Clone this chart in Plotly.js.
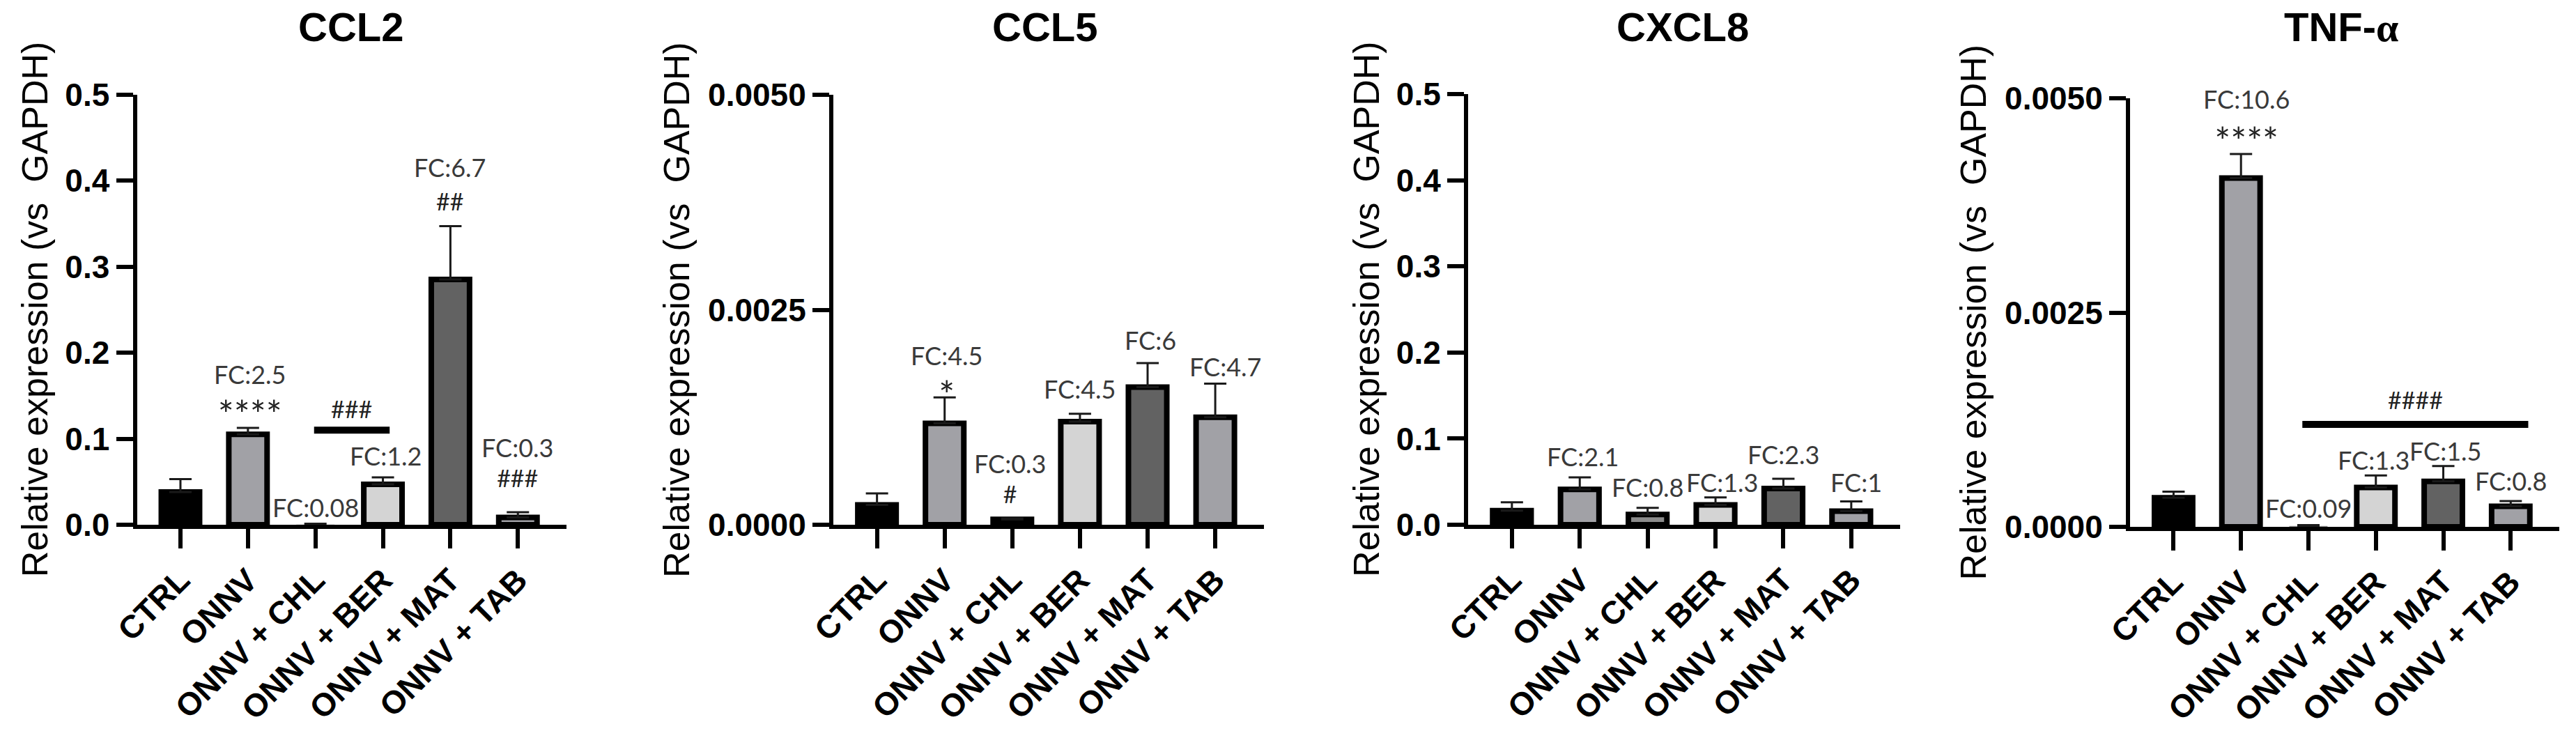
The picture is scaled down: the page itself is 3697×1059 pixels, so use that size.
<!DOCTYPE html>
<html>
<head>
<meta charset="utf-8">
<script src="https://cdn.plot.ly/plotly-3.0.1.min.js"></script>
<style>html,body{margin:0;padding:0;background:#fff;overflow:hidden}</style>
</head>
<body>
<div id="chart" style="width:3697px;height:1059px"></div>
<script>
// ---------------- DATA ----------------
const categories = ["CTRL", "ONNV", "ONNV + CHL", "ONNV + BER", "ONNV + MAT", "ONNV + TAB"];

const ccl2Mean = [0.038, 0.105, 0.0003, 0.047, 0.285, 0.0085];
const ccl2Sem  = [0.015, 0.0075, 0.0009, 0.008, 0.062, 0.006];
const ccl2FC   = ["", "FC:2.5", "FC:0.08", "FC:1.2", "FC:6.7", "FC:0.3"];
const ccl2Sig  = ["", "****", "", "", "##", "###"];

const ccl5Mean = [0.00023, 0.00118, 0.000062, 0.0012, 0.0016, 0.00125];
const ccl5Sem  = [0.000135, 0.0003, 0.00001, 0.00009, 0.00028, 0.00039];
const ccl5FC   = ["", "FC:4.5", "FC:0.3", "FC:4.5", "FC:6", "FC:4.7"];
const ccl5Sig  = ["", "*", "#", "", "", ""];

const cxcl8Mean = [0.0163, 0.041, 0.012, 0.023, 0.042, 0.0157];
const cxcl8Sem  = [0.0098, 0.014, 0.0076, 0.0087, 0.0113, 0.0115];
const cxcl8FC   = ["", "FC:2.1", "FC:0.8", "FC:1.3", "FC:2.3", "FC:1"];
const cxcl8Sig  = ["", "", "", "", "", ""];

const tnfMean = [0.00034, 0.00407, 0.00001, 0.00046, 0.00053, 0.00024];
const tnfSem  = [0.00007, 0.00028, 0.00001, 0.00014, 0.00018, 0.00006];
const tnfFC   = ["", "FC:10.6", "FC:0.09", "FC:1.3", "FC:1.5", "FC:0.8"];
const tnfSig  = ["", "****", "", "", "", ""];

const tickValsA = [0, 0.1, 0.2, 0.3, 0.4, 0.5];
const tickTextA = ["0.0", "0.1", "0.2", "0.3", "0.4", "0.5"];
const tickValsB = [0, 0.0025, 0.005];
const tickTextB = ["0.0000", "0.0025", "0.0050"];

const yTitleText = "Relative expression (vs\u00a0 GAPDH)";

// group comparison bars (significance vs ONNV)
const ccl2Group = {from: 1.98, to: 3.1, level: 0.11, text: "###"};
const tnfGroup  = {from: 1.91, to: 5.26, level: 0.001195, text: "####"};

// ---------------- STYLE / LAYOUT ----------------
const W = 3697, H = 1059;
const fills = ["#000000", "#a1a1a6", "#8c8c8c", "#d4d4d4", "#626262", "#a1a1a6"];

const FC_SIZE = 36, STAR_SIZE = 54, HASH_SIZE = 34;

const panels = [
  {title: "<b>CCL2</b>", mean: ccl2Mean, sem: ccl2Sem, fc: ccl2FC, sig: ccl2Sig,
   tv: tickValsA, tt: tickTextA, ymax: 0.5, group: ccl2Group, groupShift: 31,
   frame: {x0: 196.5, x1: 813, top: 135.5, bottom: 753, titleX: 503, yTitleX: 50},
   lw: [8, 8, 0, 8, 8, 8],
   fcShift: [0, 0, 24, 31, 0, 0], fcDx: [0, 3, 0, 4, -1, -1],
   comboShift: [0, 101, 0, 0, 108, 117], comboGap: [0, 48.5, 0, 0, 36.9, 33]},
  {title: "<b>CCL5</b>", mean: ccl5Mean, sem: ccl5Sem, fc: ccl5FC, sig: ccl5Sig,
   tv: tickValsB, tt: tickTextB, ymax: 0.005, group: null,
   frame: {x0: 1196, x1: 1814, top: 136, bottom: 753, titleX: 1499, yTitleX: 971.5},
   lw: [8, 8, 8, 8, 8, 8],
   fcShift: [0, 0, 0, 36, 33, 25], fcDx: [0, 3, -3, 0, 4, 14],
   comboShift: [0, 84, 103.5, 0, 0, 0], comboGap: [0, 47.7, 33.1, 0, 0, 0]},
  {title: "<b>CXCL8</b>", mean: cxcl8Mean, sem: cxcl8Sem, fc: cxcl8FC, sig: cxcl8Sig,
   tv: tickValsA, tt: tickTextA, ymax: 0.5, group: null,
   frame: {x0: 2107, x1: 2727, top: 135, bottom: 753, titleX: 2415, yTitleX: 1961},
   lw: [8, 8, 8, 8, 8, 8],
   fcShift: [0, 30, 30, 22, 35, 27], fcDx: [0, 4, 0, 9, 0, 7],
   comboShift: [0, 0, 0, 0, 0, 0], comboGap: [0, 0, 0, 0, 0, 0]},
  {title: "<b>TNF-<span style='font-family:Liberation Serif'>α</span></b>", mean: tnfMean, sem: tnfSem, fc: tnfFC, sig: tnfSig,
   tv: tickValsB, tt: tickTextB, ymax: 0.005, group: tnfGroup, groupShift: 36,
   frame: {x0: 3057, x1: 3673, top: 141, bottom: 756, titleX: 3360, yTitleX: 2831},
   lw: [8, 8, 0, 8, 8, 8],
   fcShift: [0, 0, 25, 22, 22, 29], fcDx: [0, 8, 0, -3, 3, 0],
   comboShift: [0, 102.5, 0, 0, 0, 0], comboGap: [0, 50.8, 0, 0, 0, 0]}
];

const axisFont = {family: "Liberation Sans, Arial, sans-serif", size: 46, color: "#000", weight: "bold"};
const fcFont = {family: "Lato, Open Sans, sans-serif", size: FC_SIZE, color: "#3a3a3a"};
const hashFont = {family: "Lato, Open Sans, sans-serif", size: HASH_SIZE, color: "#222"};

const traces = [];
const layout = {
  width: W, height: H, margin: {l: 0, r: 0, t: 0, b: 0},
  paper_bgcolor: "#fff", plot_bgcolor: "rgba(0,0,0,0)",
  showlegend: false, annotations: [], shapes: [], bargap: 0
};

function sigSpan(s) {
  const size = s.indexOf("*") >= 0 ? STAR_SIZE : HASH_SIZE;
  return "<span style='font-size:" + size + "px;color:#222'>" + s + "</span>";
}

panels.forEach((p, i) => {
  const sfx = i === 0 ? "" : String(i + 1);
  const xa = "x" + sfx, ya = "y" + sfx;
  const f = p.frame;
  traces.push({
    type: "bar", x: categories, y: p.mean, xaxis: xa, yaxis: ya,
    width: 0.567,
    marker: {color: fills, line: {color: "#000", width: p.lw}},
    error_y: {type: "data", symmetric: false, array: p.sem, arrayminus: p.sem.map(() => 0),
              color: "#1a1a1a", thickness: 3, width: 16},
    hoverinfo: "skip"
  });
  layout["xaxis" + sfx] = {
    domain: [f.x0 / W, f.x1 / W], anchor: ya, type: "category",
    range: [-0.645, 5.72], autorange: false,
    showline: true, linewidth: 6, linecolor: "#000",
    ticks: "outside", ticklen: 28, tickwidth: 6, tickcolor: "#000",
    tickangle: -45, tickfont: axisFont, showgrid: false, zeroline: false, fixedrange: true
  };
  layout["yaxis" + sfx] = {
    domain: [(H - f.bottom) / H, (H - f.top) / H], anchor: xa,
    range: [0, p.ymax], autorange: false,
    tickmode: "array", tickvals: p.tv, ticktext: p.tt,
    showline: true, linewidth: 6, linecolor: "#000",
    ticks: "outside", ticklen: 24, tickwidth: 6, tickcolor: "#000",
    tickfont: axisFont, showgrid: false, zeroline: false, fixedrange: true
  };
  // panel title
  layout.annotations.push({
    xref: "paper", yref: "paper", x: f.titleX / W, y: (H - 39) / H,
    xanchor: "center", yanchor: "middle", showarrow: false, text: p.title,
    font: {family: "Liberation Sans, Arial, sans-serif", size: 58, color: "#000"}
  });
  // y axis title
  layout.annotations.push({
    xref: "paper", yref: "paper", x: f.yTitleX / W, y: (H - (f.top + f.bottom) / 2) / H,
    xanchor: "center", yanchor: "middle", showarrow: false, textangle: -90,
    text: yTitleText,
    font: {family: "Liberation Sans, Arial, sans-serif", size: 52, color: "#000"}
  });
  // FC + significance labels
  p.mean.forEach((m, k) => {
    const top = m + p.sem[k];
    if (p.fc[k] && p.sig[k]) {
      layout.annotations.push({
        xref: xa, yref: ya, x: k, y: top, xanchor: "center", yanchor: "top",
        xshift: p.fcDx[k], yshift: p.comboShift[k], showarrow: false, align: "center",
        text: "<span style='font-size:" + FC_SIZE + "px;color:#3a3a3a'>" + p.fc[k] + "</span><br>" + sigSpan(p.sig[k]),
        font: {family: "Lato, Open Sans, sans-serif", size: p.comboGap[k], color: "#222"}
      });
    } else if (p.fc[k]) {
      layout.annotations.push({
        xref: xa, yref: ya, x: k, y: top, xanchor: "center", yanchor: "middle",
        xshift: p.fcDx[k], yshift: p.fcShift[k], showarrow: false, text: p.fc[k], font: fcFont
      });
    }
  });
  if (p.group) {
    const g = p.group;
    layout.shapes.push({type: "line", xref: xa, yref: ya, x0: g.from, x1: g.to, y0: g.level, y1: g.level,
                        line: {color: "#000", width: 10}});
    layout.annotations.push({
      xref: xa, yref: ya, x: (g.from + g.to) / 2, y: g.level, xanchor: "center", yanchor: "middle",
      yshift: p.groupShift, showarrow: false, text: g.text, font: hashFont
    });
  }
});

Plotly.newPlot("chart", traces, layout, {staticPlot: true, displayModeBar: false});
</script>
</body>
</html>
